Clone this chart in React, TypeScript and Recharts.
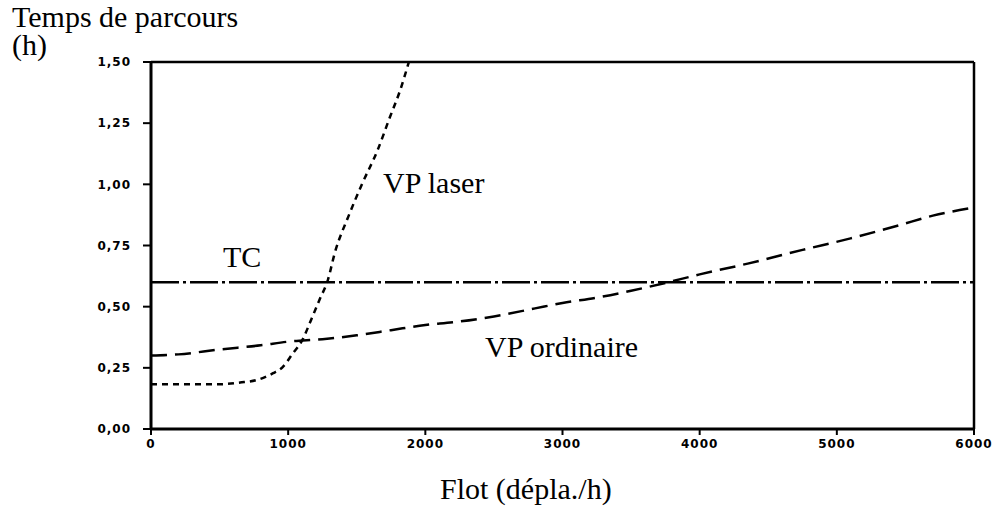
import React from "react";
import { LineChart, Line, XAxis, YAxis, ReferenceLine } from "recharts";

const xTicks = [0, 1000, 2000, 3000, 4000, 5000, 6000];
const yTicks = [0, 0.25, 0.5, 0.75, 1.0, 1.25, 1.5];

const flowOrdinaire = [0, 200, 500, 800, 1000, 1250, 1500, 1750, 2000, 2200, 2500, 2800, 3000, 3250, 3500, 3750, 4000, 4350, 4750, 5100, 5450, 5700, 6000];
const tempsOrdinaire = [0.3, 0.305, 0.325, 0.342, 0.357, 0.367, 0.383, 0.404, 0.425, 0.436, 0.46, 0.493, 0.515, 0.537, 0.565, 0.597, 0.632, 0.676, 0.732, 0.779, 0.832, 0.872, 0.905];

const flowLaser = [0, 500, 650, 770, 890, 960, 1035, 1100, 1170, 1230, 1290, 1340, 1440, 1540, 1650, 1740, 1815, 1880];
const tempsLaser = [0.183, 0.183, 0.19, 0.2, 0.228, 0.253, 0.31, 0.36, 0.45, 0.53, 0.61, 0.72, 0.87, 1.003, 1.137, 1.272, 1.382, 1.5];

const flowTC = [0, 6000];
const tempsTC = [0.6, 0.6];

const toPts = (xs: number[], ys: number[]) => xs.map((x, i) => ({ x, y: ys[i] }));
const dataOrdinaire = toPts(flowOrdinaire, tempsOrdinaire);
const dataLaser = toPts(flowLaser, tempsLaser);
const dataTC = toPts(flowTC, tempsTC);

const tickStyle = {
  fontFamily: "DejaVu Sans",
  fontWeight: 700,
  fontSize: 12,
  letterSpacing: 1,
  fill: "#000",
};

const serif = "Liberation Serif, serif";

export default function App() {
  return (
    <div style={{ position: "absolute", left: 0, top: 0, width: 992, height: 509, background: "#fff" }}>
      <LineChart
        width={992}
        height={509}
        margin={{ top: 62, right: 18, bottom: 50, left: 91 }}
      >
        <XAxis
          type="number"
          dataKey="x"
          domain={[0, 6000]}
          ticks={xTicks}
          allowDataOverflow
          height={30}
          axisLine={{ stroke: "#000", strokeWidth: 3 }}
          tickLine={{ stroke: "#000", strokeWidth: 2 }}
          tickSize={6}
          tickMargin={4}
          tick={tickStyle}
          interval={0}
        />
        <YAxis
          type="number"
          dataKey="y"
          domain={[0, 1.5]}
          ticks={yTicks}
          allowDataOverflow
          width={60}
          axisLine={{ stroke: "#000", strokeWidth: 3 }}
          tickLine={{ stroke: "#000", strokeWidth: 2 }}
          tickSize={8}
          tickMargin={12}
          tick={tickStyle}
          interval={0}
          tickFormatter={(v: number) => v.toFixed(2).replace(".", ",")}
        />
        <ReferenceLine y={1.5} stroke="#000" strokeWidth={2.5} />
        <ReferenceLine x={6000} stroke="#000" strokeWidth={2.5} />
        <Line
          data={dataTC}
          dataKey="y"
          type="linear"
          stroke="#000"
          strokeWidth={2.5}
          strokeDasharray="28 4 3 4"
          dot={false}
          activeDot={false}
          isAnimationActive={false}
        />
        <Line
          data={dataOrdinaire}
          dataKey="y"
          type="monotone"
          stroke="#000"
          strokeWidth={2.5}
          strokeDasharray="16 8"
          dot={false}
          activeDot={false}
          isAnimationActive={false}
        />
        <Line
          data={dataLaser}
          dataKey="y"
          type="monotone"
          stroke="#000"
          strokeWidth={2.5}
          strokeDasharray="6 5"
          dot={false}
          activeDot={false}
          isAnimationActive={false}
        />
      </LineChart>
      <svg
        width={992}
        height={509}
        style={{ position: "absolute", left: 0, top: 0, pointerEvents: "none" }}
      >
        <g style={{ fontFamily: serif, fontSize: 30 }} fill="#000">
          <text x={12} y={27}>Temps de parcours</text>
          <text x={12} y={55}>(h)</text>
          <text x={223} y={267}>TC</text>
          <text x={383} y={193}>VP laser</text>
          <text x={485} y={357}>VP ordinaire</text>
          <text x={440} y={499}>Flot (dépla./h)</text>
        </g>
      </svg>
    </div>
  );
}
